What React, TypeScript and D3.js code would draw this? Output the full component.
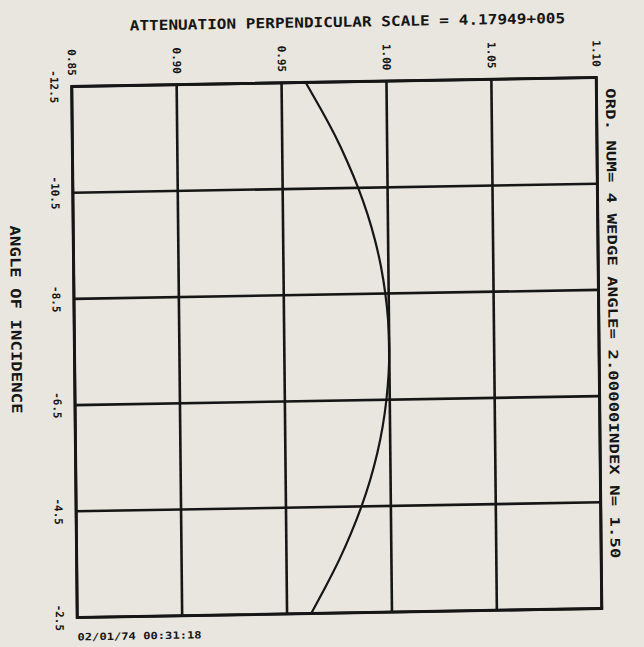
import React from "react";
import * as d3 from "d3";

const angles = [-12.5, -12.0, -11.5, -11.0, -10.5, -10.0, -9.5, -9.0, -8.5, -8.0, -7.5, -7.0, -6.5, -6.0, -5.5, -5.0, -4.5, -4.0, -3.5, -3.0, -2.5];
const attenuation = [0.9615, 0.9685, 0.9751, 0.9809, 0.986, 0.9903, 0.9938, 0.9965, 0.9984, 0.9996, 1.0, 0.9996, 0.9984, 0.9965, 0.9938, 0.9903, 0.986, 0.9809, 0.9751, 0.9685, 0.9615];
const xTicks = [0.85, 0.9, 0.95, 1.0, 1.05, 1.1];
const xTickLabels = ["0.85", "0.90", "0.95", "1.00", "1.05", "1.10"];
const yTicks = [-12.5, -10.5, -8.5, -6.5, -4.5, -2.5];
const yTickLabels = ["-12.5", "-10.5", "-8.5", "-6.5", "-4.5", "-2.5"];
const titleText = "ATTENUATION PERPENDICULAR SCALE = 4.17949+005";
const sideText = "ORD. NUM= 4 WEDGE ANGLE= 2.00000INDEX N=  1.50";
const yAxisTitle = "ANGLE OF INCIDENCE";
const stamp = "02/01/74  00:31:18";

const W = 524;
const H = 531;
const INK = "#161616";
const FONT = "'DejaVu Sans Mono', monospace";

export default function App() {
  const x = d3.scaleLinear().domain([0.85, 1.1]).range([0, W]);
  const y = d3.scaleLinear().domain([-12.5, -2.5]).range([0, H]);
  const pts = angles.map((a, i) => [attenuation[i], a] as [number, number]);
  const line = d3
    .line<[number, number]>()
    .x((d) => x(d[0]))
    .y((d) => y(d[1]))
    .curve(d3.curveNatural);

  const m = `matrix(1.001,-0.01718,0.01036,1.0,71.75,86.5)`;

  return (
    <svg
      width={644}
      height={647}
      style={{ position: "absolute", left: 0, top: 0, display: "block" }}
    >
      <rect x={0} y={0} width={644} height={647} fill="#e8e6df" />
      <g transform={m} fontFamily={FONT} fontWeight="bold" fill={INK}>
        <text x={276} y={-55} fontSize={14} textAnchor="middle" textLength={435} lengthAdjust="spacingAndGlyphs">
          {titleText}
        </text>
        {xTicks.map((t, i) => (
          <line key={"gx" + i} x1={x(t)} x2={x(t)} y1={0} y2={H} stroke={INK} strokeWidth={2.6} />
        ))}
        {yTicks.map((t, i) => (
          <line key={"gy" + i} x1={0} x2={W} y1={y(t)} y2={y(t)} stroke={INK} strokeWidth={2.6} />
        ))}
        <rect x={0} y={0} width={W} height={H} fill="none" stroke={INK} strokeWidth={3} />
        <path d={line(pts) || ""} fill="none" stroke={INK} strokeWidth={2.2} />
        {xTicks.map((t, i) => (
          <text
            key={"xl" + i}
            transform={`translate(${x(t)},${-24}) rotate(90)`}
            fontSize={11}
            textAnchor="middle"
            dominantBaseline="central"
          >
            {xTickLabels[i]}
          </text>
        ))}
        {yTicks.map((t, i) => (
          <text
            key={"yl" + i}
            transform={`translate(${-18},${y(t)}) rotate(90)`}
            fontSize={11}
            textAnchor="middle"
            dominantBaseline="central"
          >
            {yTickLabels[i]}
          </text>
        ))}
        <text
          transform={`translate(${W + 14},${11}) rotate(90)`}
          fontSize={13}
          dominantBaseline="central"
          textLength={470}
          lengthAdjust="spacingAndGlyphs"
        >
          {sideText}
        </text>
        <text
          transform={`translate(${-58},${232}) rotate(90)`}
          fontSize={14}
          textAnchor="middle"
          dominantBaseline="central"
          textLength={188}
          lengthAdjust="spacingAndGlyphs"
        >
          {yAxisTitle}
        </text>
        <text x={0} y={H + 23} fontSize={10} textLength={124} lengthAdjust="spacingAndGlyphs">
          {stamp}
        </text>
      </g>
    </svg>
  );
}
